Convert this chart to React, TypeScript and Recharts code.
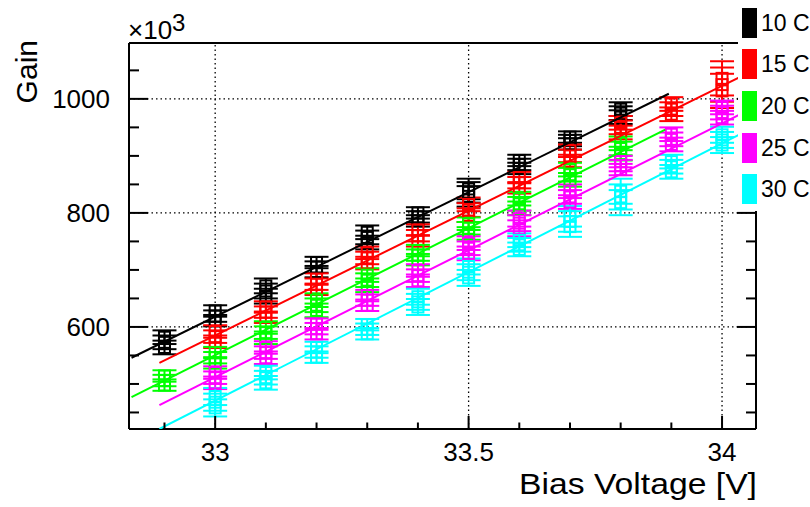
import React from 'react';
import { ComposedChart, XAxis, YAxis, Scatter, ErrorBar, ReferenceLine } from 'recharts';

const FONT = '"Liberation Sans", Arial, Helvetica, sans-serif';

// ---- categories / legend ----
const seriesNames = ['10 C', '15 C', '20 C', '25 C', '30 C'];
const seriesColors = ['#000000', '#ff0000', '#00ff00', '#ff00ff', '#00ffff'];

// ---- bias voltages ----
const voltsShort = [32.9, 33.0, 33.1, 33.2, 33.3, 33.4, 33.5, 33.6, 33.7, 33.8];
const voltsLong = [33.0, 33.1, 33.2, 33.3, 33.4, 33.5, 33.6, 33.7, 33.8, 33.9, 34.0];

// ---- gain (x10^3), three overlapping runs per temperature ----
const c10Hi = [582, 628, 672, 713, 766, 800, 842, 892, 933, 982];
const c10Mid = [573, 619, 663, 705, 757, 793, 836, 885, 927, 975];
const c10Lo = [564, 611, 654, 697, 748, 786, 829, 878, 921, 968];
const c10Err = [12, 10, 13, 10, 12, 10, 18, 10, 10, 12];

const c15Hi = [592, 635, 684, 730, 770, 815, 862, 909, 958, 991, 1036];
const c15Mid = [583, 626, 675, 721, 760, 805, 853, 900, 950, 982, 1025];
const c15Lo = [574, 617, 666, 712, 751, 796, 844, 891, 941, 973, 1014];
const c15Err = [11, 10, 10, 11, 10, 12, 10, 11, 12, 12, 30];

const c20Hi = [514, 555, 599, 647, 691, 734, 781, 825, 876, 922];
const c20Mid = [506, 546, 590, 638, 682, 726, 773, 816, 867, 913];
const c20Lo = [498, 537, 581, 629, 673, 718, 764, 808, 858, 904];
const c20Err = [10, 10, 11, 12, 12, 10, 11, 12, 12, 12];

const c25Hi = [520, 564, 605, 655, 699, 747, 790, 838, 890, 938, 985];
const c25Mid = [511, 555, 597, 647, 690, 738, 782, 828, 883, 929, 976];
const c25Lo = [502, 546, 588, 638, 681, 729, 773, 819, 876, 920, 967];
const c25Err = [11, 11, 10, 10, 11, 12, 14, 12, 10, 12, 12];

const c30Hi = [478, 520, 564, 604, 653, 706, 752, 794, 838, 890, 937];
const c30Mid = [468, 511, 556, 596, 644, 696, 744, 785, 828, 881, 928];
const c30Lo = [458, 502, 547, 588, 635, 686, 736, 776, 818, 872, 919];
const c30Err = [15, 12, 10, 10, 14, 14, 12, 18, 22, 12, 14];

// ---- linear fits (start / end points) ----
const fitStartV = [32.835, 32.89, 32.835, 32.89, 32.89];
const fitStartG = [546, 537, 477, 463, 421];
const fitEndV = [33.895, 34.067, 33.888, 34.067, 34.067];
const fitEndG = [1009, 1052, 946, 987, 952];

// ---- axes ----
const xDomain = [32.83, 34.067];
const yDomain = [421, 1098];
const xTicks = [32.9, 33.0, 33.1, 33.2, 33.3, 33.4, 33.5, 33.6, 33.7, 33.8, 33.9, 34.0];
const xGrid = [33, 33.5, 34];
const yTicks = [450, 500, 550, 600, 650, 700, 750, 800, 850, 900, 950, 1000, 1050];
const yGrid = [600, 800, 1000];

const seriesVolts = [voltsShort, voltsLong, voltsShort, voltsLong, voltsLong];
const seriesRuns = [
  [c10Hi, c10Mid, c10Lo],
  [c15Hi, c15Mid, c15Lo],
  [c20Hi, c20Mid, c20Lo],
  [c25Hi, c25Mid, c25Lo],
  [c30Hi, c30Mid, c30Lo],
];
const seriesErr = [c10Err, c15Err, c20Err, c25Err, c30Err];

const pointData = seriesRuns.map((runs, s) =>
  runs.flatMap((run) => run.map((g, i) => ({ v: seriesVolts[s][i], g, e: seriesErr[s][i] })))
);
const fitData = seriesNames.map((_, s) => [
  { v: fitStartV[s], g: fitStartG[s] },
  { v: fitEndV[s], g: fitEndG[s] },
]);

const isMajorX = (v: number) => Math.abs(v * 2 - Math.round(v * 2)) < 1e-6;
const isMajorY = (v: number) => v % 200 === 0;

const XTick = (props: any) => {
  const { x, y, payload } = props;
  const v = payload.value;
  const major = isMajorX(v);
  return (
    <g>
      <line x1={x} x2={x} y1={y} y2={y - (major ? 13 : 6.5)} stroke="#000" strokeWidth={2} />
      {major && (
        <text x={x} y={y + 32} textAnchor="middle" fontSize={26} fontFamily={FONT} fill="#000">
          {String(v)}
        </text>
      )}
    </g>
  );
};

const YTickLeft = (props: any) => {
  const { x, y, payload } = props;
  const v = payload.value;
  const major = isMajorY(v);
  return (
    <g>
      <line x1={x} x2={x + (major ? 19 : 10)} y1={y} y2={y} stroke="#000" strokeWidth={2} />
      {major && (
        <text x={x - 19} y={y + 9.5} textAnchor="end" fontSize={26} fontFamily={FONT} fill="#000">
          {String(v)}
        </text>
      )}
    </g>
  );
};

const YTickRight = (props: any) => {
  const { x, y, payload } = props;
  const major = isMajorY(payload.value);
  return <line x1={x} x2={x - (major ? 19 : 10)} y1={y} y2={y} stroke="#000" strokeWidth={2} />;
};

const makeSquare = (color: string) => (p: any) => (
  <rect x={p.cx - 5.5} y={p.cy - 5.5} width={11} height={11} fill="none" stroke={color} strokeWidth={2} />
);
const noShape = () => <g />;

const legendY = [8, 49, 91, 133, 174];

export default function App() {
  return (
    <div style={{ position: 'absolute', left: 0, top: 0, width: 810, height: 507, background: '#fff' }}>
      <ComposedChart width={810} height={507} margin={{ top: 0, right: 0, bottom: 0, left: 0 }}>
        <XAxis
          dataKey="v"
          type="number"
          domain={xDomain}
          allowDataOverflow
          ticks={xTicks}
          interval={0}
          height={78}
          tickSize={0}
          tickMargin={0}
          tickLine={false}
          tick={<XTick />}
          axisLine={{ stroke: '#000', strokeWidth: 2 }}
        />
        <XAxis
          xAxisId="top"
          orientation="top"
          dataKey="v"
          type="number"
          domain={xDomain}
          allowDataOverflow
          height={43}
          tick={false}
          tickLine={false}
          axisLine={{ stroke: '#000', strokeWidth: 2 }}
        />
        <YAxis
          dataKey="g"
          type="number"
          domain={yDomain}
          allowDataOverflow
          ticks={yTicks}
          interval={0}
          width={129}
          tickSize={0}
          tickMargin={0}
          tickLine={false}
          tick={<YTickLeft />}
          axisLine={{ stroke: '#000', strokeWidth: 2 }}
        />
        <YAxis
          yAxisId="right"
          orientation="right"
          dataKey="g"
          type="number"
          domain={yDomain}
          allowDataOverflow
          ticks={yTicks}
          interval={0}
          width={54}
          tickSize={0}
          tickMargin={0}
          tickLine={false}
          tick={<YTickRight />}
          axisLine={{ stroke: '#000', strokeWidth: 2 }}
        />
        {xGrid.map((v) => (
          <ReferenceLine key={'gx' + v} x={v} stroke="#000" strokeWidth={1.3} strokeDasharray="1.5 3" />
        ))}
        {yGrid.map((g) => (
          <ReferenceLine key={'gy' + g} y={g} stroke="#000" strokeWidth={1.3} strokeDasharray="1.5 3" />
        ))}
        {pointData.map((data, s) => (
          <Scatter
            key={'pts' + s}
            name={seriesNames[s]}
            data={data}
            shape={makeSquare(seriesColors[s])}
            isAnimationActive={false}
          >
            <ErrorBar dataKey="e" direction="y" width={12} stroke={seriesColors[s]} strokeWidth={2} />
          </Scatter>
        ))}
        {fitData.map((data, s) => (
          <Scatter
            key={'fit' + s}
            data={data}
            line={{ stroke: seriesColors[s], strokeWidth: 2 }}
            shape={noShape}
            legendType="none"
            isAnimationActive={false}
          />
        ))}
      </ComposedChart>
      <svg
        width={810}
        height={507}
        style={{ position: 'absolute', left: 0, top: 0, pointerEvents: 'none' }}
      >
        <text x={128} y={39} fontSize={26} fontFamily={FONT} fill="#000">×10</text>
        <text x={172} y={31} fontSize={24} fontFamily={FONT} fill="#000">3</text>
        <text
          transform="translate(37,40) rotate(-90)"
          textAnchor="end"
          fontSize={30}
          fontFamily={FONT}
          fill="#000"
        >
          Gain
        </text>
        <text
          x={519}
          y={494}
          fontSize={29}
          fontFamily={FONT}
          fill="#000"
          textLength={238}
          lengthAdjust="spacingAndGlyphs"
        >
          Bias Voltage [V]
        </text>
        <rect x={738} y={0} width={72} height={211} fill="#fff" />
        {seriesNames.map((n, s) => (
          <g key={'lg' + s}>
            <rect x={742} y={legendY[s]} width={15} height={30} fill={seriesColors[s]} />
            <text x={761} y={legendY[s] + 23} fontSize={23} fontFamily={FONT} fill="#000">
              {n}
            </text>
          </g>
        ))}
      </svg>
    </div>
  );
}
